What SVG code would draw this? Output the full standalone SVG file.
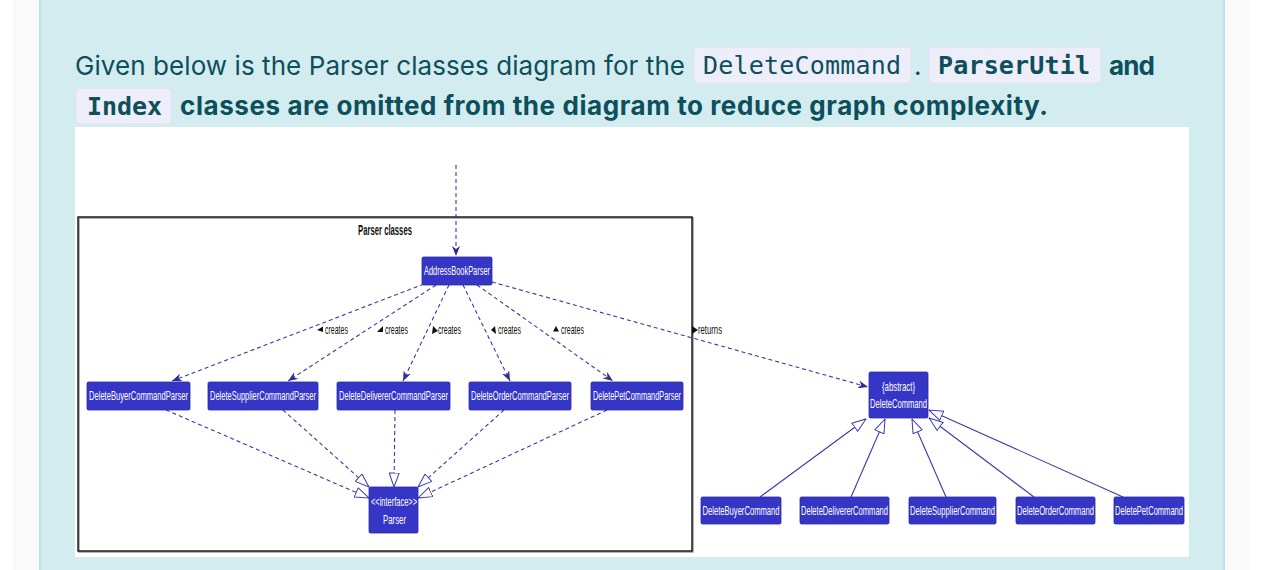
<svg xmlns="http://www.w3.org/2000/svg" width="1286" height="570" viewBox="0 0 1286 570">
<style>
.prose{font-family:Inter,"Noto Sans",sans-serif;font-size:26px;fill:#0d4f5b}
.b{font-weight:700}
.code{font-family:"DejaVu Sans Mono","Liberation Mono",monospace;font-size:25px;fill:#0d4f5b}
.cbox{fill:#eeeefb;stroke:#e2e2ef;stroke-width:1}
.node rect{fill:#3535c6;stroke:#2a2aa8;stroke-width:0.8}
.node text{font-family:"Liberation Sans",Arial,sans-serif;font-size:12.5px;fill:#ffffff;text-anchor:middle}
.lbl{font-family:"Liberation Sans",Arial,sans-serif;font-size:12px;fill:#111}
.dash{fill:none;stroke:#3a3aa8;stroke-width:1.1;stroke-dasharray:4 3}
.solid{fill:none;stroke:#3a3aa8;stroke-width:1.1}
.tri{fill:#111}
</style>
<defs>
<marker id="arr" viewBox="0 0 10 8" refX="10" refY="4" markerWidth="10" markerHeight="8" markerUnits="userSpaceOnUse" orient="auto">
<path d="M0,0 L10,4 L0,8 L3,4 z" fill="#2c2c9a"/>
</marker>
<marker id="inh" viewBox="0 0 15 11" refX="14.5" refY="5.5" markerWidth="15" markerHeight="11" markerUnits="userSpaceOnUse" orient="auto">
<path d="M0.5,0.5 L14.5,5.5 L0.5,10.5 z" fill="#ffffff" stroke="#3a3aa8" stroke-width="1"/>
</marker>
</defs>
<!-- page background -->
<rect x="0" y="0" width="1286" height="570" fill="#ffffff"/>
<rect x="13" y="0" width="1237" height="570" fill="#fafafa"/>
<rect x="39" y="0" width="1186" height="570" fill="#d3ecf0"/>
<rect x="39" y="0" width="2" height="570" fill="#bfe3ea"/>
<rect x="1223" y="0" width="2" height="570" fill="#bfe3ea"/>
<!-- prose -->
<text class="prose" x="75" y="75" textLength="610" lengthAdjust="spacing">Given below is the Parser classes diagram for the</text>
<rect class="cbox" x="694" y="47" width="217" height="36" rx="4"/>
<text class="code" x="703" y="74" textLength="198" lengthAdjust="spacing">DeleteCommand</text>
<text class="prose" x="914" y="75">.</text>
<rect class="cbox" x="929" y="47" width="172" height="36" rx="4"/>
<text class="code b" x="938" y="74" textLength="152" lengthAdjust="spacing">ParserUtil</text>
<text class="prose b" x="1109" y="75" textLength="46" lengthAdjust="spacing">and</text>
<rect class="cbox" x="76" y="88" width="95" height="36" rx="4"/>
<text class="code b" x="87" y="115" textLength="75" lengthAdjust="spacing">Index</text>
<text class="prose b" x="180" y="115" textLength="868" lengthAdjust="spacing">classes are omitted from the diagram to reduce graph complexity.</text>
<!-- diagram image area -->
<rect x="75" y="127" width="1114" height="430" fill="#ffffff"/>
<!-- package frame -->
<g id="parser-classes">
<rect x="79" y="218" width="614" height="334" fill="none" stroke="#9a9a9a" stroke-width="1.5"/>
<rect x="78" y="217" width="614" height="334" fill="none" stroke="#111111" stroke-width="1.4"/>
<text transform="translate(385,235) scale(0.55,1)" font-family="'Liberation Sans',Arial,sans-serif" font-size="14" font-weight="700" fill="#111" text-anchor="middle" textLength="98" lengthAdjust="spacingAndGlyphs">Parser classes</text>
</g>
<!-- connectors -->
<g id="connectors">
<line class="dash" x1="456" y1="165" x2="456" y2="256" marker-end="url(#arr)"/>
<line class="dash" x1="424" y1="284" x2="172" y2="381" marker-end="url(#arr)"/>
<line class="dash" x1="436" y1="285" x2="288" y2="381" marker-end="url(#arr)"/>
<line class="dash" x1="449" y1="285" x2="403" y2="381" marker-end="url(#arr)"/>
<line class="dash" x1="463" y1="285" x2="510" y2="381" marker-end="url(#arr)"/>
<line class="dash" x1="477" y1="285" x2="613" y2="381" marker-end="url(#arr)"/>
<line class="dash" x1="492" y1="282" x2="868" y2="387" marker-end="url(#arr)"/>
<line class="dash" x1="166" y1="410" x2="369" y2="498" marker-end="url(#inh)"/>
<line class="dash" x1="283" y1="410" x2="369" y2="487" marker-end="url(#inh)"/>
<line class="dash" x1="395" y1="410" x2="394" y2="487" marker-end="url(#inh)"/>
<line class="dash" x1="504" y1="410" x2="418" y2="487" marker-end="url(#inh)"/>
<line class="dash" x1="607" y1="410" x2="418" y2="498" marker-end="url(#inh)"/>
<line class="solid" x1="760" y1="497" x2="866" y2="419" marker-end="url(#inh)"/>
<line class="solid" x1="851" y1="497" x2="885" y2="419" marker-end="url(#inh)"/>
<line class="solid" x1="946" y1="497" x2="912" y2="419" marker-end="url(#inh)"/>
<line class="solid" x1="1034" y1="497" x2="929" y2="418" marker-end="url(#inh)"/>
<line class="solid" x1="1123" y1="497" x2="929" y2="410" marker-end="url(#inh)"/>
<!-- labels -->
<polygon class="tri" points="317,330 323,326.5 323,332"/>
<text class="lbl" transform="translate(325,334) scale(0.62,1)" textLength="37" lengthAdjust="spacingAndGlyphs">creates</text>
<polygon class="tri" points="377,332 383,326 383,332"/>
<text class="lbl" transform="translate(385,334) scale(0.62,1)" textLength="37" lengthAdjust="spacingAndGlyphs">creates</text>
<polygon class="tri" points="433,326 438,331 432,334"/>
<text class="lbl" transform="translate(438,334) scale(0.62,1)" textLength="37" lengthAdjust="spacingAndGlyphs">creates</text>
<polygon class="tri" points="495,326 491,330 496,334"/>
<text class="lbl" transform="translate(498,334) scale(0.62,1)" textLength="37" lengthAdjust="spacingAndGlyphs">creates</text>
<polygon class="tri" points="553,331.5 556,326 559,331.5"/>
<text class="lbl" transform="translate(561,334) scale(0.62,1)" textLength="37" lengthAdjust="spacingAndGlyphs">creates</text>
<polygon class="tri" points="692,326 698,330 692,334"/>
<text class="lbl" transform="translate(698,334) scale(0.62,1)" textLength="38.7" lengthAdjust="spacingAndGlyphs">returns</text>
</g>
<!-- nodes -->
<g id="AddressBookParser" class="node"><rect x="422" y="257" width="70" height="28" rx="1.5"/><text transform="translate(457,275) scale(0.62,1)" textLength="106.5" lengthAdjust="spacingAndGlyphs">AddressBookParser</text></g>
<g id="DeleteBuyerCommandParser" class="node"><rect x="87" y="382" width="103" height="28" rx="1.5"/><text transform="translate(138.5,400) scale(0.62,1)" textLength="159.7" lengthAdjust="spacingAndGlyphs">DeleteBuyerCommandParser</text></g>
<g id="DeleteSupplierCommandParser" class="node"><rect x="208" y="382" width="110" height="28" rx="1.5"/><text transform="translate(263,400) scale(0.62,1)" textLength="171" lengthAdjust="spacingAndGlyphs">DeleteSupplierCommandParser</text></g>
<g id="DeleteDelivererCommandParser" class="node"><rect x="337" y="382" width="113" height="28" rx="1.5"/><text transform="translate(393.5,400) scale(0.62,1)" textLength="175.8" lengthAdjust="spacingAndGlyphs">DeleteDelivererCommandParser</text></g>
<g id="DeleteOrderCommandParser" class="node"><rect x="469" y="382" width="102" height="28" rx="1.5"/><text transform="translate(520,400) scale(0.62,1)" textLength="158.1" lengthAdjust="spacingAndGlyphs">DeleteOrderCommandParser</text></g>
<g id="DeletePetCommandParser" class="node"><rect x="591" y="382" width="92" height="28" rx="1.5"/><text transform="translate(637,400) scale(0.62,1)" textLength="141.9" lengthAdjust="spacingAndGlyphs">DeletePetCommandParser</text></g>
<g id="Parser" class="node"><rect x="369" y="487" width="49" height="46" rx="1.5"/><text transform="translate(394,506) scale(0.62,1)" textLength="74.2" lengthAdjust="spacingAndGlyphs">&lt;&lt;interface&gt;&gt;</text><text transform="translate(394.5,524) scale(0.62,1)" textLength="37.1" lengthAdjust="spacingAndGlyphs">Parser</text></g>
<g id="DeleteCommand" class="node"><rect x="869" y="372" width="59" height="46" rx="1.5"/><text transform="translate(898.5,391) scale(0.62,1)" textLength="53.2" lengthAdjust="spacingAndGlyphs">{abstract}</text><text transform="translate(898.5,408) scale(0.62,1)" textLength="91.9" lengthAdjust="spacingAndGlyphs">DeleteCommand</text></g>
<g id="DeleteBuyerCommand" class="node"><rect x="701" y="497" width="80" height="27" rx="1.5"/><text transform="translate(741,515) scale(0.62,1)" textLength="124.2" lengthAdjust="spacingAndGlyphs">DeleteBuyerCommand</text></g>
<g id="DeleteDelivererCommand" class="node"><rect x="800" y="497" width="89" height="27" rx="1.5"/><text transform="translate(844.5,515) scale(0.62,1)" textLength="140.3" lengthAdjust="spacingAndGlyphs">DeleteDelivererCommand</text></g>
<g id="DeleteSupplierCommand" class="node"><rect x="909" y="497" width="87" height="27" rx="1.5"/><text transform="translate(952.5,515) scale(0.62,1)" textLength="137.1" lengthAdjust="spacingAndGlyphs">DeleteSupplierCommand</text></g>
<g id="DeleteOrderCommand" class="node"><rect x="1016" y="497" width="79" height="27" rx="1.5"/><text transform="translate(1055.5,515) scale(0.62,1)" textLength="124.2" lengthAdjust="spacingAndGlyphs">DeleteOrderCommand</text></g>
<g id="DeletePetCommand" class="node"><rect x="1114" y="497" width="70" height="27" rx="1.5"/><text transform="translate(1149,515) scale(0.62,1)" textLength="109.7" lengthAdjust="spacingAndGlyphs">DeletePetCommand</text></g>
</svg>
